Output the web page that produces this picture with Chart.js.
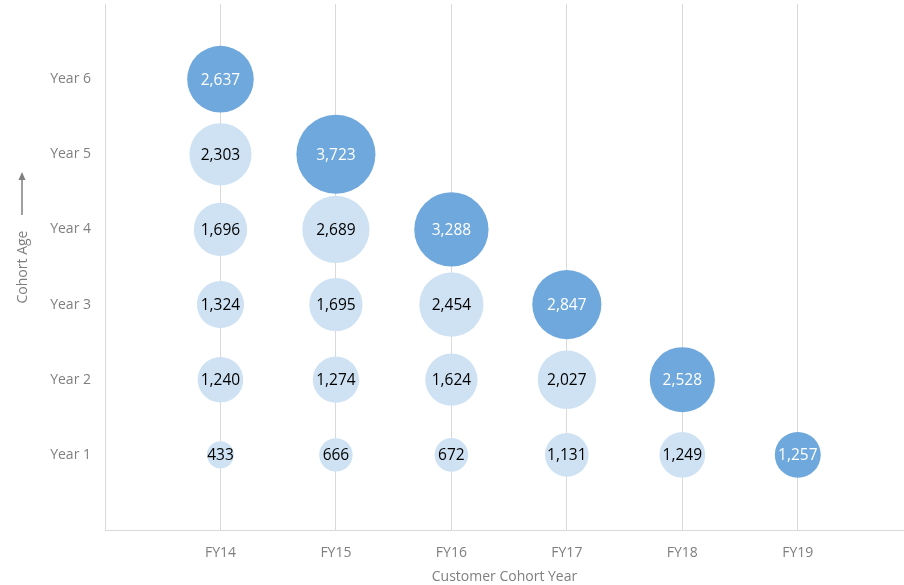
<!DOCTYPE html>
<html lang="en">
<head>
    <meta charset="UTF-8">
    <title>Customer Cohorts</title>
    <script src="https://cdnjs.cloudflare.com/ajax/libs/chart.js/4.4.1/chart.umd.min.js"></script>
    <style>
        html, body {
            margin: 0;
            padding: 0;
            background: #fff;
        }

        .canvas-container {
            position: relative;
            width: 904px;
            height: 585px;
        }
    </style>
</head>
<body>
    <div class="canvas-container">
        <canvas id="cohortChart"></canvas>
    </div>

    <script>
        // Cohort years along the bottom, cohort age up the side
        const cohortYears = ['FY14', 'FY15', 'FY16', 'FY17', 'FY18', 'FY19'];
        const ageLabels = ['Year 1', 'Year 2', 'Year 3', 'Year 4', 'Year 5', 'Year 6'];

        // Customers per cohort, Year 1 first
        const fy14 = [433, 1240, 1324, 1696, 2303, 2637];
        const fy15 = [666, 1274, 1695, 2689, 3723];
        const fy16 = [672, 1624, 2454, 3288];
        const fy17 = [1131, 2027, 2847];
        const fy18 = [1249, 2528];
        const fy19 = [1257];
        const cohorts = [fy14, fy15, fy16, fy17, fy18, fy19];

        const darkBlue = '#6FA8DC';
        const lightBlue = '#CFE2F3';
        const gridColor = '#D9D9D9';
        const textGray = '#7F7F7F';
        const fontFamily = "'Open Sans', sans-serif";

        // bubble area follows the value
        const sizeFactor = 0.648;

        const points = [];
        const colors = [];
        cohorts.forEach((values, ci) => {
            values.forEach((v, ai) => {
                points.push({ x: ci + 1, y: ai + 1, r: sizeFactor * Math.sqrt(v), v: v });
                colors.push(ai === values.length - 1 ? darkBlue : lightBlue);
            });
        });

        // value labels in the middle of each bubble
        const bubbleLabels = {
            id: 'bubbleLabels',
            afterDatasetsDraw(chart) {
                const ctx = chart.ctx;
                const meta = chart.getDatasetMeta(0);
                ctx.save();
                ctx.font = '15.5px ' + fontFamily;
                ctx.textAlign = 'center';
                ctx.textBaseline = 'middle';
                meta.data.forEach((el, i) => {
                    const p = points[i];
                    ctx.fillStyle = colors[i] === darkBlue ? '#FFFFFF' : '#000000';
                    ctx.fillText(p.v.toLocaleString('en-US'), el.x, el.y + 1);
                });
                ctx.restore();
            }
        };

        // small arrow above the y axis title
        const ageArrow = {
            id: 'ageArrow',
            afterDraw(chart) {
                const ctx = chart.ctx;
                const area = chart.chartArea;
                const cx = 22;
                const mid = (area.top + area.bottom) / 2;
                const y1 = mid - 52;
                const y0 = mid - 95;
                ctx.save();
                ctx.strokeStyle = textGray;
                ctx.fillStyle = textGray;
                ctx.lineWidth = 1.5;
                ctx.beginPath();
                ctx.moveTo(cx, y1);
                ctx.lineTo(cx, y0 + 4);
                ctx.stroke();
                ctx.beginPath();
                ctx.moveTo(cx, y0);
                ctx.lineTo(cx - 3.5, y0 + 8);
                ctx.lineTo(cx + 3.5, y0 + 8);
                ctx.closePath();
                ctx.fill();
                ctx.restore();
            }
        };

        const axisFont = { family: fontFamily, size: 14 };

        const ctx = document.getElementById('cohortChart').getContext('2d');
        new Chart(ctx, {
            type: 'bubble',
            data: {
                datasets: [{
                    label: 'Customers',
                    data: points,
                    backgroundColor: colors,
                    borderWidth: 0,
                    hoverRadius: 0,
                    hoverBorderWidth: 0
                }]
            },
            options: {
                responsive: true,
                maintainAspectRatio: false,
                animation: false,
                layout: {
                    autoPadding: false,
                    padding: { top: 4, right: 0, bottom: 0, left: 0 }
                },
                plugins: {
                    legend: { display: false },
                    tooltip: { enabled: false }
                },
                scales: {
                    x: {
                        type: 'linear',
                        min: 0,
                        max: 6.92,
                        afterBuildTicks(scale) {
                            scale.ticks = cohortYears.map((_, i) => ({ value: i + 1 }));
                        },
                        afterFit(scale) {
                            scale.height = 55;
                            scale.paddingLeft = 0;
                            scale.paddingRight = 0;
                        },
                        border: {
                            display: true,
                            color: gridColor
                        },
                        grid: {
                            color: gridColor,
                            drawTicks: false
                        },
                        ticks: {
                            color: textGray,
                            padding: 15,
                            font: axisFont,
                            callback: value => cohortYears[value - 1] || ''
                        },
                        title: {
                            display: true,
                            text: 'Customer Cohort Year',
                            color: textGray,
                            padding: { top: 0, bottom: 0 },
                            font: axisFont
                        }
                    },
                    y: {
                        type: 'linear',
                        min: 0,
                        max: 7,
                        afterBuildTicks(scale) {
                            scale.ticks = ageLabels.map((_, i) => ({ value: i + 1 }));
                        },
                        afterFit(scale) {
                            scale.width = 105;
                            scale.paddingTop = 0;
                            scale.paddingBottom = 0;
                        },
                        border: {
                            display: true,
                            color: gridColor
                        },
                        grid: {
                            display: false,
                            drawTicks: false
                        },
                        ticks: {
                            color: textGray,
                            padding: 14,
                            font: axisFont,
                            callback: value => ageLabels[value - 1] || ''
                        },
                        title: {
                            display: true,
                            text: 'Cohort Age',
                            color: textGray,
                            padding: { top: 15, bottom: 0 },
                            font: axisFont
                        }
                    }
                }
            },
            plugins: [bubbleLabels, ageArrow]
        });
    </script>
</body>
</html>
